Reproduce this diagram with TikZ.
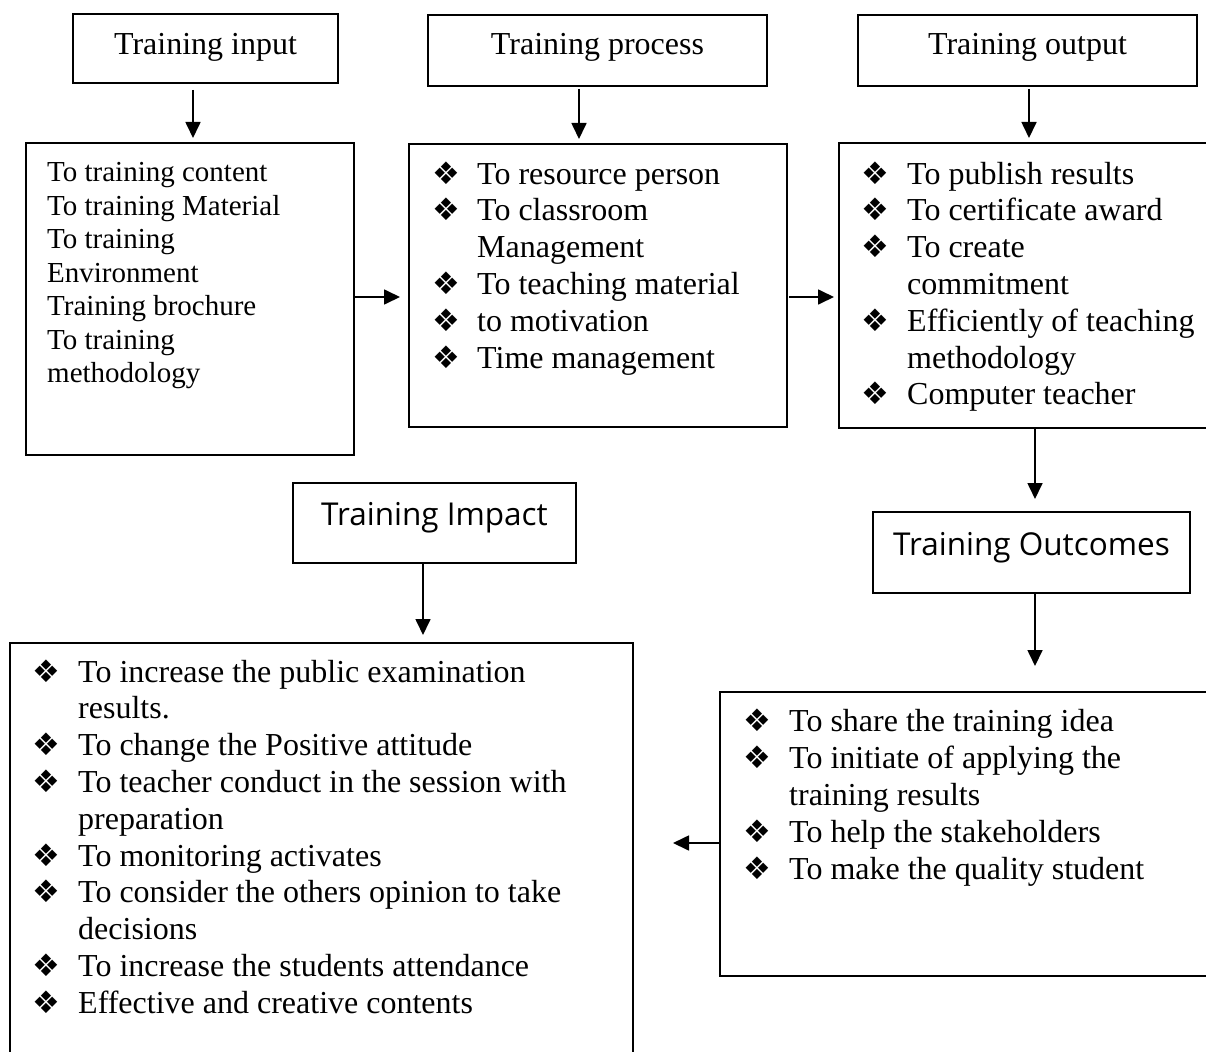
\documentclass[tikz,border=0pt]{standalone}
\usepackage{fontspec}
\setmainfont{Liberation Serif}
\newfontfamily\headsans{Open Sans}
\newfontfamily\symfont{DejaVu Sans}
\usetikzlibrary{arrows.meta}
\begin{document}
\begin{tikzpicture}[x=1pt,y=-1pt,
  box/.style={draw, line width=1.7pt, inner sep=0pt, outer sep=0pt},
  arr/.style={line width=1.7pt, -{Triangle[length=16pt,width=15pt]}},
  hd/.style={box, font=\fontsize{32}{36.8}\selectfont},
  hs/.style={box, font=\headsans\fontsize{31.5}{36}\selectfont},
  ln/.style={anchor=base west, inner sep=0pt, font=\fontsize{32}{36.8}\selectfont},
  lns/.style={anchor=base west, inner sep=0pt, font=\fontsize{29}{33.4}\selectfont},
  bul/.style={anchor=base west, inner sep=0pt, font=\symfont\fontsize{31}{31}\selectfont},
]
\useasboundingbox (0,0) rectangle (1206,1051);
\clip (0,0) rectangle (1206,1051);

% heading boxes
\node[hd, minimum width=265pt, minimum height=69pt, text height=22pt, text depth=9pt] (inT) at (205.5,48.5) {Training input};
\node[hd, minimum width=339pt, minimum height=71pt, text height=22pt, text depth=13pt] (prT) at (597.5,50.5) {Training process};
\node[hd, minimum width=339pt, minimum height=71pt, text height=22pt, text depth=13pt] (outT) at (1027.5,50.5) {Training output};
\node[hs, minimum width=283pt, minimum height=80pt, text height=22pt, text depth=18pt] (impT) at (434.5,523) {Training Impact};
\node[hs, minimum width=317pt, minimum height=81pt, text height=22pt, text depth=17pt] (ocT) at (1031.5,552.5) {Training Outcomes};

% list boxes
\node[box, minimum width=328pt, minimum height=312pt] (inL) at (190,299) {};
\node[box, minimum width=378pt, minimum height=283pt] (prL) at (598,285.5) {};
\node[box, minimum width=391pt, minimum height=285pt] (outL) at (1034.5,285.5) {};
\node[box, minimum width=510pt, minimum height=284pt] (brL) at (975,834) {};
\node[box, minimum width=623pt, minimum height=437pt] (blL) at (321.5,861.5) {};

% input list
\node[lns] (i1) at (47,182) {To training content};
\node[lns] (i2) at (47,215.4) {To training Material};
\node[lns] (i3) at (47,248.8) {To training};
\node[lns] (i4) at (47,282.2) {Environment};
\node[lns] (i5) at (47,315.6) {Training brochure};
\node[lns] (i6) at (47,349) {To training};
\node[lns] (i7) at (47,382.4) {methodology};

% process list
\node[bul] (pb1) at (432,184) {❖};
\node[ln] (p1) at (477,184) {To resource person};
\node[bul] (pb2) at (432,220.8) {❖};
\node[ln] (p2) at (477,220.8) {To classroom};
\node[ln] (p3) at (477,257.6) {Management};
\node[bul] (pb4) at (432,294.4) {❖};
\node[ln] (p4) at (477,294.4) {To teaching material};
\node[bul] (pb5) at (432,331.2) {❖};
\node[ln] (p5) at (477,331.2) {to motivation};
\node[bul] (pb6) at (432,368) {❖};
\node[ln] (p6) at (477,368) {Time management};

% output list
\node[bul] (ob1) at (861,184) {❖};
\node[ln] (o1) at (907,184) {To publish results};
\node[bul] (ob2) at (861,220.8) {❖};
\node[ln] (o2) at (907,220.8) {To certificate award};
\node[bul] (ob3) at (861,257.6) {❖};
\node[ln] (o3) at (907,257.6) {To create};
\node[ln] (o4) at (907,294.4) {commitment};
\node[bul] (ob5) at (861,331.2) {❖};
\node[ln] (o5) at (907,331.2) {Efficiently of teaching};
\node[ln] (o6) at (907,368) {methodology};
\node[bul] (ob7) at (861,404.8) {❖};
\node[ln] (o7) at (907,404.8) {Computer teacher};

% outcomes list
\node[bul] (rb1) at (743,731) {❖};
\node[ln] (r1) at (789,731) {To share the training idea};
\node[bul] (rb2) at (743,768) {❖};
\node[ln] (r2) at (789,768) {To initiate of applying the};
\node[ln] (r3) at (789,805) {training results};
\node[bul] (rb4) at (743,842) {❖};
\node[ln] (r4) at (789,842) {To help the stakeholders};
\node[bul] (rb5) at (743,879) {❖};
\node[ln] (r5) at (789,879) {To make the quality student};

% impact list
\node[bul] (lb1) at (32,682) {❖};
\node[ln] (l1) at (78,682) {To increase the public examination};
\node[ln] (l2) at (78,718.8) {results.};
\node[bul] (lb3) at (32,755.6) {❖};
\node[ln] (l3) at (78,755.6) {To change the Positive attitude};
\node[bul] (lb4) at (32,792.4) {❖};
\node[ln] (l4) at (78,792.4) {To teacher conduct in the session with};
\node[ln] (l5) at (78,829.2) {preparation};
\node[bul] (lb6) at (32,866) {❖};
\node[ln] (l6) at (78,866) {To monitoring activates};
\node[bul] (lb7) at (32,902.8) {❖};
\node[ln] (l7) at (78,902.8) {To consider the others opinion to take};
\node[ln] (l8) at (78,939.6) {decisions};
\node[bul] (lb9) at (32,976.4) {❖};
\node[ln] (l9) at (78,976.4) {To increase the students attendance};
\node[bul] (lb10) at (32,1013.2) {❖};
\node[ln] (l10) at (78,1013.2) {Effective and creative contents};

% connectors
\draw[arr] ([xshift=-12.5pt,yshift=-7pt]inT.south) -- ([xshift=3pt,yshift=5pt]inL.north);
\draw[arr] ([xshift=-18.5pt,yshift=-3pt]prT.south) -- ([xshift=-19pt,yshift=5pt]prL.north);
\draw[arr] ([xshift=1.5pt,yshift=-3pt]outT.south) -- ([xshift=-5.5pt,yshift=5pt]outL.north);
\draw[arr] ([yshift=2pt]inL.east) -- ([xshift=-9pt,yshift=-11.5pt]prL.west);
\draw[arr] ([xshift=2pt,yshift=-11.5pt]prL.east) -- ([xshift=-5pt,yshift=-11.5pt]outL.west);
\draw[arr] ([xshift=0.5pt]outL.south) -- ([xshift=3.5pt,yshift=13pt]ocT.north);
\draw[arr] ([xshift=3.5pt]ocT.south) -- ([xshift=60pt,yshift=26pt]brL.north);
\draw[arr] ([xshift=-11.5pt]impT.south) -- ([xshift=101.5pt,yshift=8pt]blL.north);
\draw[arr] ([yshift=-9pt]brL.west) -- ([xshift=40pt,yshift=18.5pt]blL.east);
\end{tikzpicture}
\end{document}
